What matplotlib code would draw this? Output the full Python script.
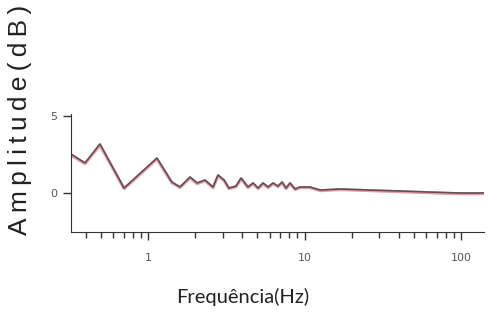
import matplotlib.pyplot as plt
from matplotlib.ticker import FixedLocator, NullFormatter

# frequency response, smoothed
freq = [0.322, 0.396, 0.493, 0.703, 1.14, 1.42, 1.60, 1.855, 2.06, 2.31, 2.60,
        2.80, 3.06, 3.29, 3.65, 3.93, 4.35, 4.69, 5.05, 5.43, 5.85, 6.29, 6.77,
        7.18, 7.62, 8.08, 8.70, 9.36, 10.8, 12.6, 16.9, 26.2, 40.8, 63.4, 98.6, 140]
amp = [2.53, 1.95, 3.18, 0.32, 2.27, 0.71, 0.39, 1.04, 0.65, 0.84, 0.39,
       1.17, 0.84, 0.32, 0.45, 0.97, 0.39, 0.65, 0.32, 0.65, 0.39, 0.65, 0.45,
       0.71, 0.32, 0.65, 0.26, 0.39, 0.39, 0.19, 0.26, 0.19, 0.13, 0.06, 0.0, 0.0]
amp_ref = [2.45, 1.90, 3.10, 0.28, 2.20, 0.66, 0.35, 0.98, 0.60, 0.80, 0.34,
           1.10, 0.80, 0.28, 0.40, 0.92, 0.35, 0.60, 0.28, 0.60, 0.35, 0.60, 0.40,
           0.66, 0.28, 0.60, 0.22, 0.35, 0.35, 0.15, 0.22, 0.15, 0.08, 0.01, -0.05, -0.05]

xticks = [1, 10, 100]
xticklabels = ["1", "10", "100"]
yticks = [0, 5]

fig = plt.figure(figsize=(4.88, 3.21), dpi=100)
ax = fig.add_axes([71 / 488, 89 / 321, 413 / 488, 224 / 321])

ax.plot(freq, amp_ref, color="#f06a84", linewidth=2.2, alpha=0.7)
ax.plot(freq, amp, color="#555555", linewidth=1.2)

ax.set_xscale("log")
ax.set_xlim(0.322, 140)
ax.set_ylim(-2.53, 12.0)

for s in ["top", "right"]:
    ax.spines[s].set_visible(False)
ax.spines["left"].set_bounds(-2.53, 5.1)
ax.spines["left"].set_color("#333333")
ax.spines["bottom"].set_color("#333333")

ax.xaxis.set_major_locator(FixedLocator(xticks))
ax.set_xticklabels(xticklabels)
ax.xaxis.set_minor_formatter(NullFormatter())
ax.set_yticks(yticks)
ax.tick_params(axis="both", which="major", length=6, width=1, colors="#333333",
               labelsize=8, labelcolor="#555555")
ax.tick_params(axis="x", which="minor", length=4, width=1, colors="#333333")
ax.tick_params(axis="y", pad=4)
ax.tick_params(axis="x", pad=9)

# slightly spaced lettering on the y label (thin spaces)
fig.text(20 / 488, 1 - 120 / 321, "\u2009".join("Amplitude(dB)"), rotation=90,
         ha="center", va="center", fontsize=19,
         family=["Liberation Sans", "DejaVu Sans"], color="#222222")
fig.text(243 / 488, 1 - 297 / 321, "Frequência(Hz)", ha="center", va="center",
         fontsize=14.5, family=["Lato", "DejaVu Sans"], color="#222222")

plt.savefig("out.png", dpi=100)
